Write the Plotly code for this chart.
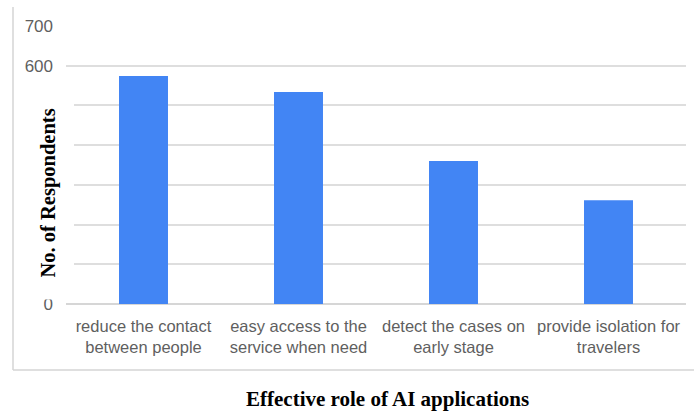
import plotly.graph_objects as go

# Survey responses: effective role of AI applications
categories = [
    "reduce the contact<br>between people",
    "easy access to the<br>service when need",
    "detect the cases on<br>early stage",
    "provide isolation for<br>travelers",
]
respondents = [574, 534, 360, 261]
y_ticks = [0, 100, 200, 300, 400, 500, 600, 700]

W, H = 694, 412
ML, MR, MT, MB = 66, 8, 26, 108
PW, PH = W - ML - MR, H - MT - MB


def px_x(px):
    return (px - ML) / PW


def px_y(py):
    return (H - MB - py) / PH


fig = go.Figure(
    go.Bar(
        x=categories,
        y=respondents,
        marker=dict(color="#4285F4", line=dict(width=0)),
        hoverinfo="x+y",
    )
)

fig.update_layout(
    width=W,
    height=H,
    margin=dict(l=ML, r=MR, t=MT, b=MB, pad=0),
    paper_bgcolor="white",
    plot_bgcolor="white",
    bargap=0.684,
    showlegend=False,
    font=dict(family="Arial, Liberation Sans, sans-serif", color="#5f5f5f"),
)

fig.update_xaxes(
    type="category",
    showgrid=False,
    showline=False,
    ticks="",
    tickfont=dict(size=16.5, color="#5f5f5f"),
    ticklabelstandoff=10,
)

fig.update_yaxes(
    range=[0, 700],
    tickvals=y_ticks,
    ticktext=[str(v) for v in y_ticks],
    showgrid=True,
    gridcolor="#dedede",
    gridwidth=1.5,
    zeroline=True,
    zerolinecolor="#d6d6d6",
    zerolinewidth=1.5,
    showline=False,
    ticks="",
    tickfont=dict(size=17, color="#5f5f5f"),
    ticklabelstandoff=12,
)

shapes = [
    # white panel behind the rotated axis title
    dict(type="rect", xref="paper", yref="paper", layer="above",
         x0=px_x(18), x1=px_x(74), y0=px_y(299.5), y1=px_y(86),
         fillcolor="white", line=dict(width=0)),
    # outer frame: left edge and bottom edge
    dict(type="line", xref="paper", yref="paper",
         x0=px_x(13), x1=px_x(13), y0=px_y(7), y1=px_y(370),
         line=dict(color="#d4d4d4", width=1.5)),
    dict(type="line", xref="paper", yref="paper",
         x0=px_x(13), x1=px_x(W), y0=px_y(370), y1=px_y(370),
         line=dict(color="#d4d4d4", width=1.5)),
]

annotations = [
    dict(text="<b>No. of Respondents</b>", xref="paper", yref="paper",
         x=px_x(47.5), y=px_y(193), textangle=-90, showarrow=False,
         xanchor="center", yanchor="middle",
         font=dict(family="Liberation Serif, Times New Roman, serif",
                   size=20.5, color="black")),
    dict(text="<b>Effective role of AI applications</b>", xref="paper", yref="paper",
         x=px_x(387.5), y=px_y(399), showarrow=False,
         xanchor="center", yanchor="middle",
         font=dict(family="Liberation Serif, Times New Roman, serif",
                   size=21, color="black")),
]

fig.update_layout(shapes=shapes, annotations=annotations)

fig.write_html("out.html")
